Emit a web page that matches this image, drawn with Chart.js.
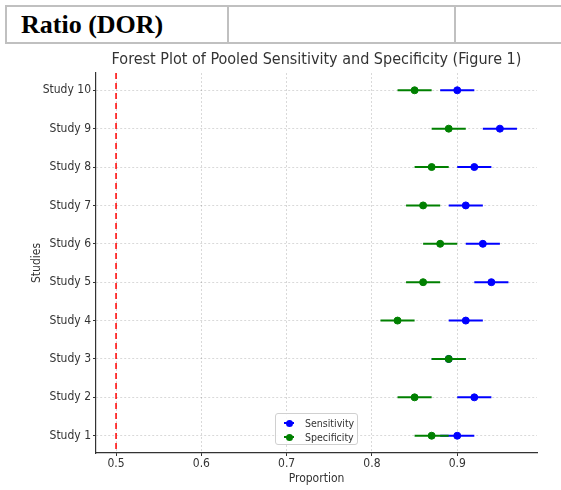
<!DOCTYPE html>
<html>
<head>
<meta charset="utf-8">
<script src="https://cdn.jsdelivr.net/npm/chart.js@4"></script>
<style>
    body { margin: 0; background: #fff; }
    #wrap { position: relative; width: 561px; height: 490px; overflow: hidden; }
    table.hdr {
        position: absolute; left: 5px; top: 5px; width: 580px; height: 39px;
        border-collapse: collapse; font-family: "Liberation Serif", serif;
    }
    table.hdr td { border: 2px solid #c0c0c0; padding: 0 0 0 14px; font-size: 26px; font-weight: bold; }
    #chartBox { position: absolute; left: 0; top: 48px; width: 561px; height: 442px; }
    #legend {
        position: absolute; left: 275px; top: 413px; width: 81px; height: 30px;
        border: 1px solid #d0d0d0; border-radius: 3px; background: rgba(255,255,255,0.85);
        font-family: "DejaVu Sans Condensed", "DejaVu Sans", sans-serif; font-size: 10.5px; color: #333;
    }
    .item { position: absolute; left: 8px; height: 12px; line-height: 12px; }
    .mk { position: absolute; left: 0; top: 5px; width: 10px; height: 2px; }
    .mk::after { content: ""; position: absolute; left: 2px; top: -2.5px; width: 7px; height: 7px; border-radius: 50%; background: inherit; }
    .lbl { position: absolute; left: 21px; top: 0; white-space: nowrap; }
</style>
</head>
<body>
<div id="wrap">
    <table class="hdr"><tr><td style="width:206px">Ratio (DOR)</td><td style="width:211px"></td><td></td></tr></table>
    <div id="chartBox"><canvas id="c" width="561" height="442"></canvas></div>
    <div id="legend">
        <div class="item" style="top:3px"><span class="mk" style="background:#0000ff"></span><span class="lbl">Sensitivity</span></div>
        <div class="item" style="top:17px"><span class="mk" style="background:#008000"></span><span class="lbl">Specificity</span></div>
    </div>
</div>
<script>
    // Study names (bottom to top)
    const studies = ['Study 1', 'Study 2', 'Study 3', 'Study 4', 'Study 5',
                     'Study 6', 'Study 7', 'Study 8', 'Study 9', 'Study 10'];
    // Pooled estimates
    const sensitivity = [0.90, 0.92, 0.89, 0.91, 0.94, 0.93, 0.91, 0.92, 0.95, 0.90];
    const specificity = [0.87, 0.85, 0.89, 0.83, 0.86, 0.88, 0.86, 0.87, 0.89, 0.85];
    const ciHalfWidth = 0.02;
    const xTicks = [0.5, 0.6, 0.7, 0.8, 0.9];
    const refValue = 0.5;
    const chartTitle = 'Forest Plot of Pooled Sensitivity and Specificity (Figure 1)';

    const BLUE = '#0000ff';
    const GREEN = '#008000';
    const FAMILY = '"DejaVu Sans Condensed", "DejaVu Sans", sans-serif';

    function points(values) {
        return values.map(function (v, i) { return { x: v, y: i }; });
    }

    // Interval segments, separated by gaps so the line breaks between studies
    function segments(values) {
        const out = [];
        values.forEach(function (v, i) {
            out.push({ x: v - ciHalfWidth, y: i });
            out.push({ x: v + ciHalfWidth, y: i });
            out.push({ x: null, y: null });
        });
        return out;
    }

    // Dashed reference line, plus a title centred over the plot area (matplotlib style)
    const decorPlugin = {
        id: 'decor',
        afterDatasetsDraw: function (chart) {
            const x = chart.scales.x.getPixelForValue(refValue);
            const area = chart.chartArea;
            const ctx = chart.ctx;
            ctx.save();
            ctx.strokeStyle = '#ff0000';
            ctx.lineWidth = 1.5;
            ctx.setLineDash([6, 4]);
            ctx.beginPath();
            ctx.moveTo(x, area.top);
            ctx.lineTo(x, area.bottom);
            ctx.stroke();
            ctx.restore();
        },
        afterDraw: function (chart) {
            const area = chart.chartArea;
            const ctx = chart.ctx;
            ctx.save();
            ctx.fillStyle = '#333';
            ctx.font = '16px ' + FAMILY;
            ctx.textAlign = 'center';
            ctx.textBaseline = 'middle';
            ctx.fillText(chartTitle, (area.left + area.right) / 2, 12);
            ctx.restore();
        }
    };

    new Chart(document.getElementById('c'), {
        type: 'scatter',
        data: {
            datasets: [
                { label: 'Specificity', data: points(specificity), backgroundColor: GREEN, borderColor: GREEN,
                  pointRadius: 3.5, pointHoverRadius: 3.5, order: 0 },
                { label: 'Specificity CI', type: 'line', data: segments(specificity), borderColor: GREEN,
                  borderWidth: 2, pointRadius: 0, spanGaps: false, order: 1 },
                { label: 'Sensitivity', data: points(sensitivity), backgroundColor: BLUE, borderColor: BLUE,
                  pointRadius: 3.5, pointHoverRadius: 3.5, order: 2 },
                { label: 'Sensitivity CI', type: 'line', data: segments(sensitivity), borderColor: BLUE,
                  borderWidth: 2, pointRadius: 0, spanGaps: false, order: 3 }
            ]
        },
        options: {
            responsive: false,
            animation: false,
            layout: { padding: { left: 26, right: 24, top: 25, bottom: 0 } },
            plugins: {
                legend: { display: false },
                tooltip: { enabled: false },
                title: { display: false }
            },
            scales: {
                x: {
                    type: 'linear',
                    min: 0.4765,
                    max: 0.9935,
                    afterBuildTicks: function (scale) {
                        scale.ticks = xTicks.map(function (v) { return { value: v }; });
                    },
                    afterFit: function (scale) { scale.height = 37; },
                    ticks: { color: '#333', font: { family: FAMILY, size: 12 }, padding: 1,
                             callback: function (v) { return v.toFixed(1); } },
                    grid: { color: 'rgba(0,0,0,0.15)', tickColor: '#333', tickLength: 3, lineWidth: 1 },
                    border: { color: '#333', width: 1.2, dash: [2, 2] },
                    title: { display: true, text: 'Proportion', color: '#333',
                             font: { family: FAMILY, size: 12 }, padding: { top: 4 } }
                },
                y: {
                    type: 'linear',
                    min: -0.45,
                    max: 9.45,
                    afterBuildTicks: function (scale) {
                        scale.ticks = studies.map(function (s, i) { return { value: i }; });
                    },
                    afterFit: function (scale) { scale.width = 70; },
                    ticks: { color: '#333', font: { family: FAMILY, size: 12 }, padding: 2,
                             callback: function (v) { return studies[v]; } },
                    grid: { color: 'rgba(0,0,0,0.15)', tickColor: '#333', tickLength: 3, lineWidth: 1 },
                    border: { color: '#333', width: 1.2, dash: [2, 2] },
                    title: { display: true, text: 'Studies', color: '#333',
                             font: { family: FAMILY, size: 12 }, padding: { bottom: 0 } }
                }
            }
        },
        plugins: [decorPlugin]
    });
</script>
</body>
</html>
